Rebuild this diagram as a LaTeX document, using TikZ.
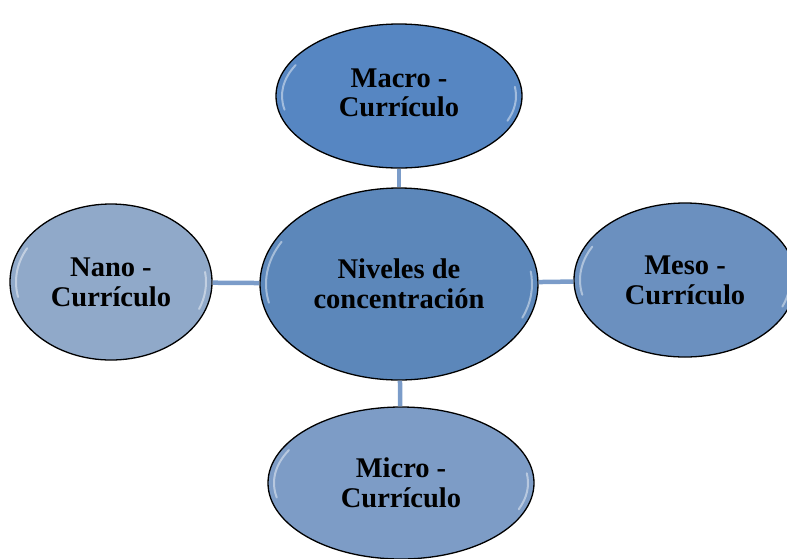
\documentclass[tikz,border=0pt]{standalone}
\usepackage{fontspec}
\setmainfont{Liberation Serif}
\usetikzlibrary{shapes.geometric,calc}
\definecolor{ctop}{HTML}{5686C2}
\definecolor{ccen}{HTML}{5C87BA}
\definecolor{cright}{HTML}{6B90BF}
\definecolor{cleft}{HTML}{90A9C9}
\definecolor{cbot}{HTML}{7D9CC6}
\definecolor{cline}{HTML}{7B9CC9}
\tikzset{
  gloss/.style={path picture={
    \draw[white,opacity=0.45,line width=2pt,line cap=round]
      let \p1=(path picture bounding box.center), \p2=(path picture bounding box.north east),
          \n1={\x2-\x1-6pt}, \n2={\y2-\y1-6pt} in
      ({\x1+\n1*cos(152)},{\y1+\n2*sin(152)}) arc[start angle=152,end angle=192,x radius=\n1,y radius=\n2]
      ({\x1+\n1*cos(-22)},{\y1+\n2*sin(-22)}) arc[start angle=-22,end angle=8,x radius=\n1,y radius=\n2];
  }},
  bubble/.style={ellipse, draw=black, line width=1.3pt, inner sep=0pt, align=center,
    font=\fontsize{28.5}{30}\selectfont\bfseries, text=black, gloss},
  link/.style={draw=cline, line width=4.5pt}
}
\begin{document}
\begin{tikzpicture}[x=1pt,y=-1pt]
\useasboundingbox (0,0) rectangle (787,558);
\node[bubble, fill=ccen, minimum width=278pt, minimum height=192pt] (cen) at (399,284) {Niveles de\\concentración};
\node[bubble, fill=ctop, minimum width=246pt, minimum height=144pt] (top) at (399,96) {\raisebox{6pt}{\begin{tabular}{@{}c@{}}Macro -\\[-1pt]Currículo\end{tabular}}};
\node[bubble, fill=cleft, minimum width=202pt, minimum height=156pt] (left) at (111,282) {Nano -\\Currículo};
\node[bubble, fill=cright, minimum width=222pt, minimum height=154pt] (right) at (685,280) {Meso -\\Currículo};
\node[bubble, fill=cbot, minimum width=266pt, minimum height=152pt] (bot) at (401,483) {Micro -\\Currículo};
\draw[link] (top) -- (cen);
\draw[link] (left) -- (cen);
\draw[link] (cen) -- (right);
\draw[link] (cen) -- (bot);
\end{tikzpicture}
\end{document}
